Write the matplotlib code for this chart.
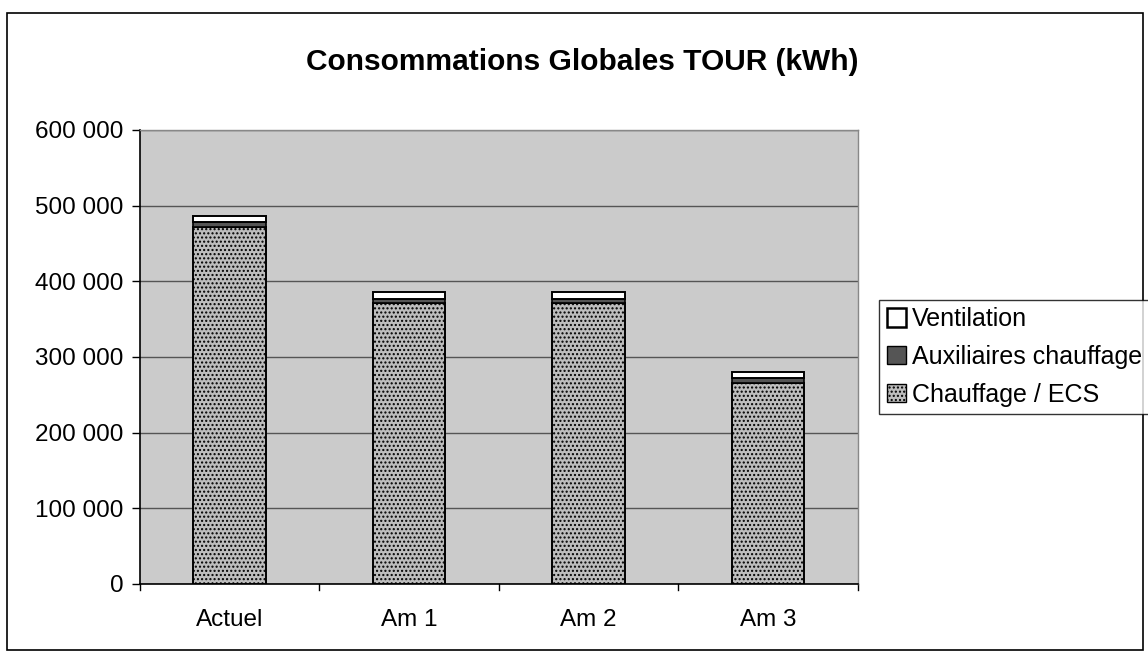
import matplotlib
matplotlib.use("Agg")
import matplotlib.pyplot as plt
from matplotlib.patches import Rectangle, Patch
from matplotlib.ticker import FuncFormatter

plt.rcParams['font.family'] = ['Liberation Sans', 'DejaVu Sans']
plt.rcParams['hatch.color'] = '#a8a8a8'

categories = ["Actuel", "Am 1", "Am 2", "Am 3"]
chauffage_ecs = [472000, 371000, 371000, 266000]
auxiliaires = [6000, 6000, 6000, 6000]
ventilation = [8000, 9000, 9000, 8000]

fig = plt.figure(figsize=(11.48, 6.53), dpi=100)
ax = fig.add_axes([0.122, 0.1057, 0.625, 0.6953])

ax.set_facecolor("#cbcbcb")

x = list(range(len(categories)))
w = 0.405
ax.bar(x, chauffage_ecs, w, color="#bdbdbd", edgecolor="black", linewidth=1.4,
       hatch="....", zorder=3)
ax.bar(x, auxiliaires, w, bottom=chauffage_ecs, color="#555555", edgecolor="black",
       linewidth=1.2, zorder=3)
bottom3 = [a + b for a, b in zip(chauffage_ecs, auxiliaires)]
ax.bar(x, ventilation, w, bottom=bottom3, color="white", edgecolor="black",
       linewidth=1.4, zorder=3)

ax.set_xlim(-0.5, len(categories) - 0.5)
ax.set_ylim(0, 600000)
ax.set_yticks(range(0, 600001, 100000))
ax.yaxis.set_major_formatter(FuncFormatter(lambda v, p: f"{int(v):,}".replace(",", " ")))
ax.grid(axis="y", color="#555555", linewidth=1.0, zorder=1)
ax.set_xticks(x)
ax.set_xticklabels(categories)
ax.tick_params(axis="both", labelsize=17.5, length=6, width=1, direction="out")
ax.tick_params(axis="y", pad=6)
ax.tick_params(axis="x", length=0, pad=18)
for t in [-0.5, 0.5, 1.5, 2.5, 3.5]:
    ax.plot([t, t], [0, -0.013], transform=ax.get_xaxis_transform(), color="black",
            linewidth=1, clip_on=False)

for side in ["top", "right"]:
    ax.spines[side].set_color("#888888")
    ax.spines[side].set_linewidth(1.0)
ax.spines["left"].set_linewidth(1.2)
ax.spines["bottom"].set_linewidth(1.2)

fig.text(0.507, 0.905, "Consommations Globales TOUR (kWh)", ha="center", va="center",
         fontsize=21.5, fontweight="bold")

handles = [Patch(facecolor="white", edgecolor="black", linewidth=1.8),
           Patch(facecolor="#555555", edgecolor="black", linewidth=1.0),
           Patch(facecolor="#bdbdbd", edgecolor="black", linewidth=1.0, hatch="....")]
labels = ["Ventilation", "Auxiliaires chauffage", "Chauffage / ECS"]
leg = fig.legend(handles, labels, loc="upper left", bbox_to_anchor=(0.766, 0.541),
                 fontsize=18, frameon=True, fancybox=False, edgecolor="black",
                 handlelength=0.75, handleheight=0.75, handletextpad=0.25,
                 borderpad=0.3, labelspacing=0.55, borderaxespad=0)
leg.get_frame().set_linewidth(1.0)

fig.patches.append(Rectangle((0.006, 0.005), 0.99, 0.975, transform=fig.transFigure,
                             fill=False, edgecolor="black", linewidth=1.2))

fig.savefig("out.png", dpi=100)
